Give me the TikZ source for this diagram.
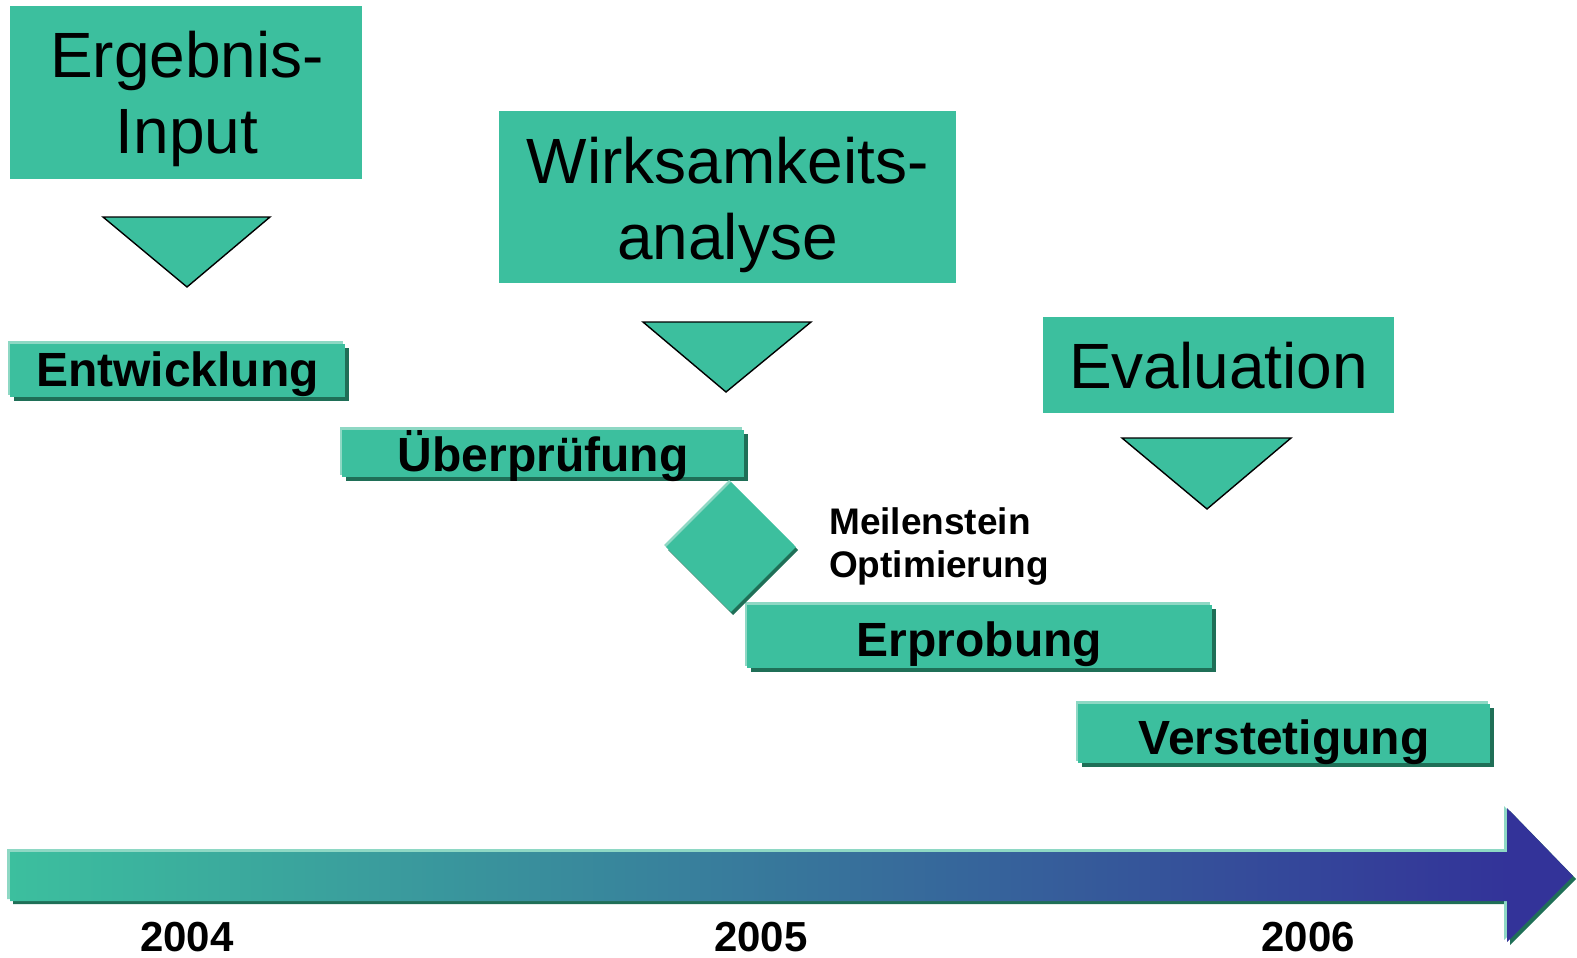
\documentclass[tikz,border=0pt]{standalone}
\usepackage{fontspec}
\setmainfont{Liberation Sans}
\usetikzlibrary{shapes.geometric}
\definecolor{tealm}{HTML}{3CBF9E}
\definecolor{tealhi}{HTML}{8ED8C4}
\definecolor{tealsh}{HTML}{1F6F57}
\definecolor{navym}{HTML}{333399}
\pgfdeclarehorizontalshading{tlshade}{100bp}{color(0bp)=(tealm); color(25bp)=(tealm); color(72.9bp)=(navym); color(100bp)=(navym)}
\tikzset{
  mainbox/.style={fill=tealm, inner sep=0pt, anchor=north west},
  bigtext/.style={font=\fontsize{64}{76}\selectfont, align=center, inner sep=0pt, anchor=north},
  bartext/.style={font=\fontsize{48}{56}\selectfont\bfseries, inner sep=0pt, anchor=base},
  yeartext/.style={font=\fontsize{42}{50}\selectfont\bfseries, inner sep=0pt, anchor=base},
  tri/.style={fill=tealm, draw=black, line width=1.4pt, line join=miter},
}
\newcommand\tlbar[7]{%
  \fill[tealsh] (#2+4,#3+4) rectangle (#4+4,#5+4);
  \fill[tealhi] (#2-2,#3-3) rectangle (#4-2,#5-2);
  \node[mainbox, minimum width={(#4-#2)*1pt}, minimum height={(#5-#3)*1pt}] (#1) at (#2,#3) {};
  \node[bartext] (#1-t) at ({(#2+#4)/2},#7) {#6};
}
\begin{document}
\begin{tikzpicture}[x=1pt,y=-1pt]
\useasboundingbox (0,0) rectangle (1577,958);

% big boxes
\node[mainbox, minimum width=352pt, minimum height=173pt] (ergebnis) at (10,6) {};
\node[bigtext] (ergebnis-t) at (187,31) {Ergebnis-\\Input};
\node[mainbox, minimum width=457pt, minimum height=172pt] (wirk) at (499,111) {};
\node[bigtext] (wirk-t) at (727.5,137) {Wirksamkeits-\\analyse};
\node[mainbox, minimum width=351pt, minimum height=96pt] (eval) at (1043,317) {};
\node[bigtext] (eval-t) at (1218.5,342) {Evaluation};

% triangles
\draw[tri] (103,217) -- (270,217) -- (187,287) -- cycle;
\draw[tri] (643,322) -- (811,322) -- (726,392) -- cycle;
\draw[tri] (1122,438) -- (1291,438) -- (1207,509) -- cycle;

% bars
\tlbar{entw}{10}{344}{345}{397}{Entwicklung}{386}
\tlbar{uebe}{342}{430}{744}{477}{Überprüfung}{471}
\tlbar{erpr}{747}{605}{1212}{668}{Erprobung}{656}
\tlbar{vers}{1078}{704}{1490}{763}{Verstetigung}{754}

% milestone diamond
\fill[tealsh] (733,485) -- (798,550) -- (733,615) -- (668,550) -- cycle;
\fill[tealhi] (729,480) -- (794,545) -- (729,610) -- (664,545) -- cycle;
\node[diamond, fill=tealm, inner sep=0pt, minimum width=130pt, minimum height=130pt] (mile) at (731,547) {};
\node[font=\fontsize{37}{43}\selectfont\bfseries, align=left, inner sep=0pt, anchor=north west] (mile-t) at (829,507) {Meilenstein\\Optimierung};

% time arrow
\fill[tealsh] (13,855) -- (1510,855) -- (1510,811) -- (1576,879) -- (1510,945) -- (1510,904) -- (13,904) -- cycle;
\fill[tealhi] (7,849) -- (1504,849) -- (1504,806) -- (1570,874) -- (1504,940) -- (1504,899) -- (7,899) -- cycle;
\shade[shading=tlshade] (10,852) -- (1507,852) -- (1507,808) -- (1573,876) -- (1507,942) -- (1507,901) -- (10,901) -- cycle;

% years
\node[yeartext] (y2004) at (187,951) {2004};
\node[yeartext] (y2005) at (761,951) {2005};
\node[yeartext] (y2006) at (1308,951) {2006};
\end{tikzpicture}
\end{document}
